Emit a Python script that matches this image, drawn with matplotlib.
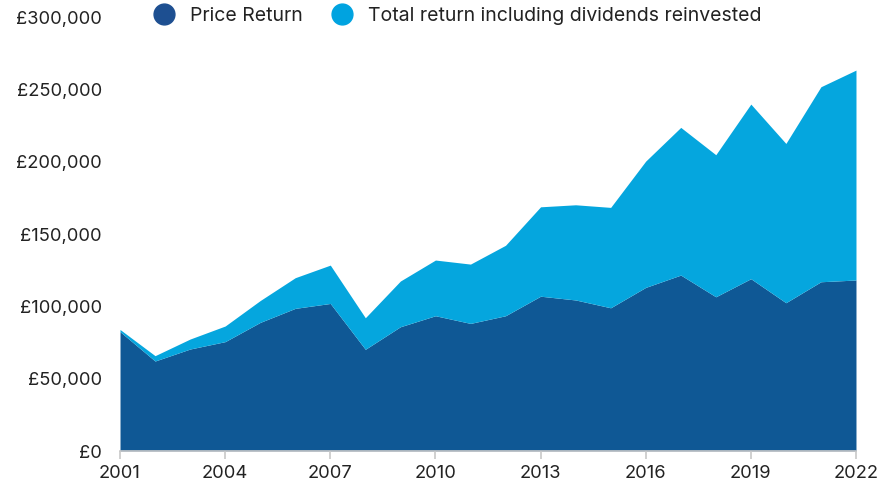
import matplotlib.pyplot as plt
from matplotlib.lines import Line2D
from matplotlib.ticker import FuncFormatter

plt.rcParams['font.family'] = ['Inter', 'DejaVu Sans']

years = list(range(2001, 2023))
price_return = [82500, 62200, 70500, 75600, 88900, 98600, 102000, 70300, 85900, 93500,
                88200, 93500, 107000, 104400, 99000, 113100, 121600, 106600, 119100, 102500,
                117000, 118200]
total_return = [84000, 65900, 77400, 86400, 104000, 119800, 128500, 92100, 117500, 132000,
                129200, 142200, 168800, 170200, 168400, 200400, 223700, 204800, 239800, 212600,
                251800, 263300]
xticks = [2001, 2004, 2007, 2010, 2013, 2016, 2019, 2022]
yticks = [0, 50000, 100000, 150000, 200000, 250000, 300000]

dark = '#0F5895'
light = '#05A6DE'
text_col = '#222222'

fig = plt.figure(figsize=(8.91, 4.86), dpi=100)
ax = fig.add_axes([0.1347, 0.072, 0.826, 0.893])

ax.fill_between(years, 0, price_return, color=dark, linewidth=0)
ax.fill_between(years, price_return, total_return, color=light, linewidth=0)

ax.set_xlim(2001, 2022)
ax.set_ylim(0, 300000)
ax.set_xticks(xticks)
ax.set_yticks(yticks)
ax.yaxis.set_major_formatter(FuncFormatter(lambda v, p: '£{:,.0f}'.format(v)))

for s in ['top', 'right', 'left']:
    ax.spines[s].set_visible(False)
ax.spines['bottom'].set_color('#c8c8c8')
ax.spines['bottom'].set_linewidth(1.2)
ax.tick_params(axis='y', length=0, pad=13, labelsize=13.2, labelcolor=text_col)
ax.tick_params(axis='x', length=6, color='#c8c8c8', width=1.2, pad=4,
               labelsize=13.2, labelcolor=text_col)

handles = [Line2D([], [], marker='o', linestyle='', markersize=15, color='#1D4F91'),
           Line2D([], [], marker='o', linestyle='', markersize=15, color='#00A3E0')]
fig.legend(handles, ['Price Return', 'Total return including dividends reinvested'],
           loc='center left', bbox_to_anchor=(0.143, 0.968), ncol=2, frameon=False,
           fontsize=14, handletextpad=0.3, columnspacing=1.05, labelcolor=text_col)

fig.savefig('out.png', dpi=100)
